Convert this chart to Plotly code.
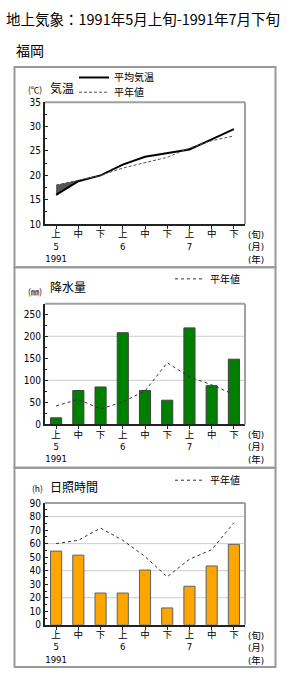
import plotly.graph_objects as go

W, H = 290, 678

# ---------------- data ----------------
periods = ["上", "中", "下", "上", "中", "下", "上", "中", "下"]
months = ["5", "", "", "6", "", "", "7", "", ""]
years = ["1991", "", "", "", "", "", "", "", ""]
temp_avg = [16.0, 18.8, 20.0, 22.2, 23.8, 24.5, 25.3, 27.4, 29.5]
temp_normal = [18.0, 19.0, 20.0, 21.5, 22.6, 23.7, 25.6, 27.1, 28.1]
precip = [15, 77, 85, 208, 77, 55, 219, 88, 148]
precip_normal = [42, 57, 35, 51, 76, 140, 108, 90, 68]
sunshine = [54.5, 51.5, 23.5, 23.5, 40.5, 12.5, 28.5, 43.5, 59.5]
sunshine_normal = [60, 62.5, 71.5, 62.5, 50.5, 35.5, 48.5, 55.5, 75.5]

x = list(range(len(periods)))
ticktext = []
for p, m, yv in zip(periods, months, years):
    lines = [p] + ([m] if m else []) + ([yv] if yv else [])
    ticktext.append("<br>".join(lines))

JP = "Noto Sans CJK JP"
NUM = "Liberation Sans Narrow, DejaVu Sans Condensed, Noto Sans CJK JP"


def px(v):
    return v / W


def py(v):
    return 1 - v / H


fig = go.Figure()

# ---------- temperature: fill where below normal ----------
n = len(x)
fx_up, fy_up, fx_lo, fy_lo = [], [], [], []
for i in range(n):
    a, b = temp_avg[i], temp_normal[i]
    fx_up.append(i); fy_up.append(b)
    fx_lo.append(i); fy_lo.append(min(a, b))
    if i < n - 1:
        d0 = a - b
        d1 = temp_avg[i + 1] - temp_normal[i + 1]
        if d0 * d1 < 0:
            t = d0 / (d0 - d1)
            xc = i + t
            yc = b + t * (temp_normal[i + 1] - b)
            fx_up.append(xc); fy_up.append(yc)
            fx_lo.append(xc); fy_lo.append(yc)

fig.add_trace(go.Scatter(x=fx_up, y=fy_up, mode="lines", line=dict(width=0),
                         showlegend=False, hoverinfo="skip", xaxis="x", yaxis="y"))
fig.add_trace(go.Scatter(x=fx_lo, y=fy_lo, mode="lines", line=dict(width=0),
                         fill="tonexty", fillcolor="#555555",
                         showlegend=False, hoverinfo="skip", xaxis="x", yaxis="y"))
fig.add_trace(go.Scatter(x=x, y=temp_avg, mode="lines", name="平均気温",
                         line=dict(color="black", width=2), xaxis="x", yaxis="y",
                         legend="legend"))
fig.add_trace(go.Scatter(x=x, y=temp_normal, mode="lines", name="平年値",
                         line=dict(color="#555555", width=1, dash="3px,2px"),
                         xaxis="x", yaxis="y", legend="legend4"))

# ---------- precipitation ----------
fig.add_trace(go.Bar(x=x, y=precip, width=0.5, marker=dict(color="#008000",
                     line=dict(color="#404040", width=1)),
                     showlegend=False, xaxis="x2", yaxis="y2"))
fig.add_trace(go.Scatter(x=x, y=precip_normal, mode="lines", name="平年値",
                         line=dict(color="#333333", width=1, dash="3px,3px"),
                         xaxis="x2", yaxis="y2", legend="legend2"))

# ---------- sunshine ----------
fig.add_trace(go.Bar(x=x, y=sunshine, width=0.5, marker=dict(color="#FFA500",
                     line=dict(color="#606060", width=1)),
                     showlegend=False, xaxis="x3", yaxis="y3"))
fig.add_trace(go.Scatter(x=x, y=sunshine_normal, mode="lines", name="平年値",
                         line=dict(color="#333333", width=1, dash="3px,3px"),
                         xaxis="x3", yaxis="y3", legend="legend3"))

# ---------- axes ----------
plots = [
    # (suffix, top px, bottom px, range, dtick, minor dtick, gridvals)
    ("", 98, 222, [10, 35], 5, 2.5, []),
    ("2", 303, 426, [0, 274], 50, 25, [100, 200]),
    ("3", 506, 630, [0, 90], 10, 5, [20, 40, 60, 80]),
]

xdom = [px(45), px(245)]
layout_axes = {}
shapes = []
for suf, top, bot, rng, dt, mdt, grid in plots:
    xa = "xaxis" + suf
    ya = "yaxis" + suf
    xr = "x" + suf
    yr = "y" + suf
    layout_axes[xa] = dict(
        domain=xdom, anchor=yr, range=[-0.5, n - 0.5],
        tickmode="array", tickvals=x, ticktext=ticktext,
        showline=True, linecolor="#222222", linewidth=1.5,
        ticks="outside", ticklen=3, tickcolor="#222222", tickwidth=1,
        ticklabelstandoff=-3,
        showgrid=False, zeroline=False,
        tickfont=dict(family=NUM, size=9.5, color="black"),
    )
    layout_axes[ya] = dict(
        domain=[py(bot), py(top)], anchor=xr, range=rng,
        tick0=rng[0], dtick=dt,
        showline=True, linecolor="#222222", linewidth=2,
        ticks="inside", ticklen=3, tickcolor="#222222",
        minor=dict(dtick=mdt, ticks="inside", ticklen=2, tickcolor="#222222"),
        showgrid=False, zeroline=False,
        tickfont=dict(family=NUM, size=10, color="black"),
    )
    for g in grid:
        shapes.append(dict(type="line", xref=xr + " domain", yref=yr,
                           x0=0, x1=1, y0=g, y1=g, layer="below",
                           line=dict(color="#cccccc", width=1)))
    # top and right frame (grey)
    shapes.append(dict(type="line", xref=xr + " domain", yref=yr + " domain",
                       x0=0, x1=1, y0=1, y1=1, line=dict(color="#a0a0a0", width=2)))
    shapes.append(dict(type="line", xref=xr + " domain", yref=yr + " domain",
                       x0=1, x1=1, y0=0, y1=1, line=dict(color="#a0a0a0", width=2)))

# panel borders
for t, b in [(62, 266), (266, 470), (470, 673)]:
    shapes.append(dict(type="rect", xref="paper", yref="paper",
                       x0=px(14.5), x1=px(275.5), y0=py(b), y1=py(t),
                       line=dict(color="#999999", width=2)))

BLACK = "black"
annotations = [
    dict(text="地上気象：1991年5月上旬-1991年7月下旬", x=px(4), y=py(13),
         xanchor="left", yanchor="middle", font=dict(family=JP, size=14.5, color=BLACK)),
    dict(text="福岡", x=px(14), y=py(45), xanchor="left", yanchor="middle",
         font=dict(family=JP, size=14, color=BLACK)),
    dict(text="(℃)", x=px(26), y=py(85), xanchor="left", yanchor="middle",
         font=dict(family=JP, size=8.5, color=BLACK)),
    dict(text="気温", x=px(48), y=py(83), xanchor="left", yanchor="middle",
         font=dict(family=JP, size=12, color=BLACK)),
    dict(text="(㎜)", x=px(26), y=py(290), xanchor="left", yanchor="middle",
         font=dict(family=JP, size=8.5, color=BLACK)),
    dict(text="降水量", x=px(48), y=py(286), xanchor="left", yanchor="middle",
         font=dict(family=JP, size=12, color=BLACK)),
    dict(text="(h)", x=px(30), y=py(491), xanchor="left", yanchor="middle",
         font=dict(family=JP, size=8.5, color=BLACK)),
    dict(text="日照時間", x=px(48), y=py(489), xanchor="left", yanchor="middle",
         font=dict(family=JP, size=12, color=BLACK)),
]
for bot in [222, 426, 630]:
    annotations.append(dict(text="(旬)<br>(月)<br>(年)", x=px(246), y=py(bot + 3),
                            xanchor="left", yanchor="top", align="left",
                            font=dict(family=NUM, size=9.5, color=BLACK)))
for a in annotations:
    a.update(xref="paper", yref="paper", showarrow=False)

legend_common = dict(xanchor="left", yanchor="top", bgcolor="rgba(0,0,0,0)",
                     font=dict(family=JP, size=10, color="black"),
                     itemwidth=30, tracegroupgap=0, borderwidth=0,
                     traceorder="normal")

fig.update_layout(
    width=W, height=H, margin=dict(l=0, r=0, t=0, b=0),
    paper_bgcolor="white", plot_bgcolor="white",
    showlegend=True,
    legend=dict(x=px(74), y=py(58), **legend_common),
    legend4=dict(x=px(74), y=py(73), **legend_common),
    legend2=dict(x=px(170), y=py(263), **legend_common),
    legend3=dict(x=px(170), y=py(468), **legend_common),
    shapes=shapes, annotations=annotations,
    font=dict(family=JP, color="black"),
    **layout_axes,
)

fig.write_html("out.html")
